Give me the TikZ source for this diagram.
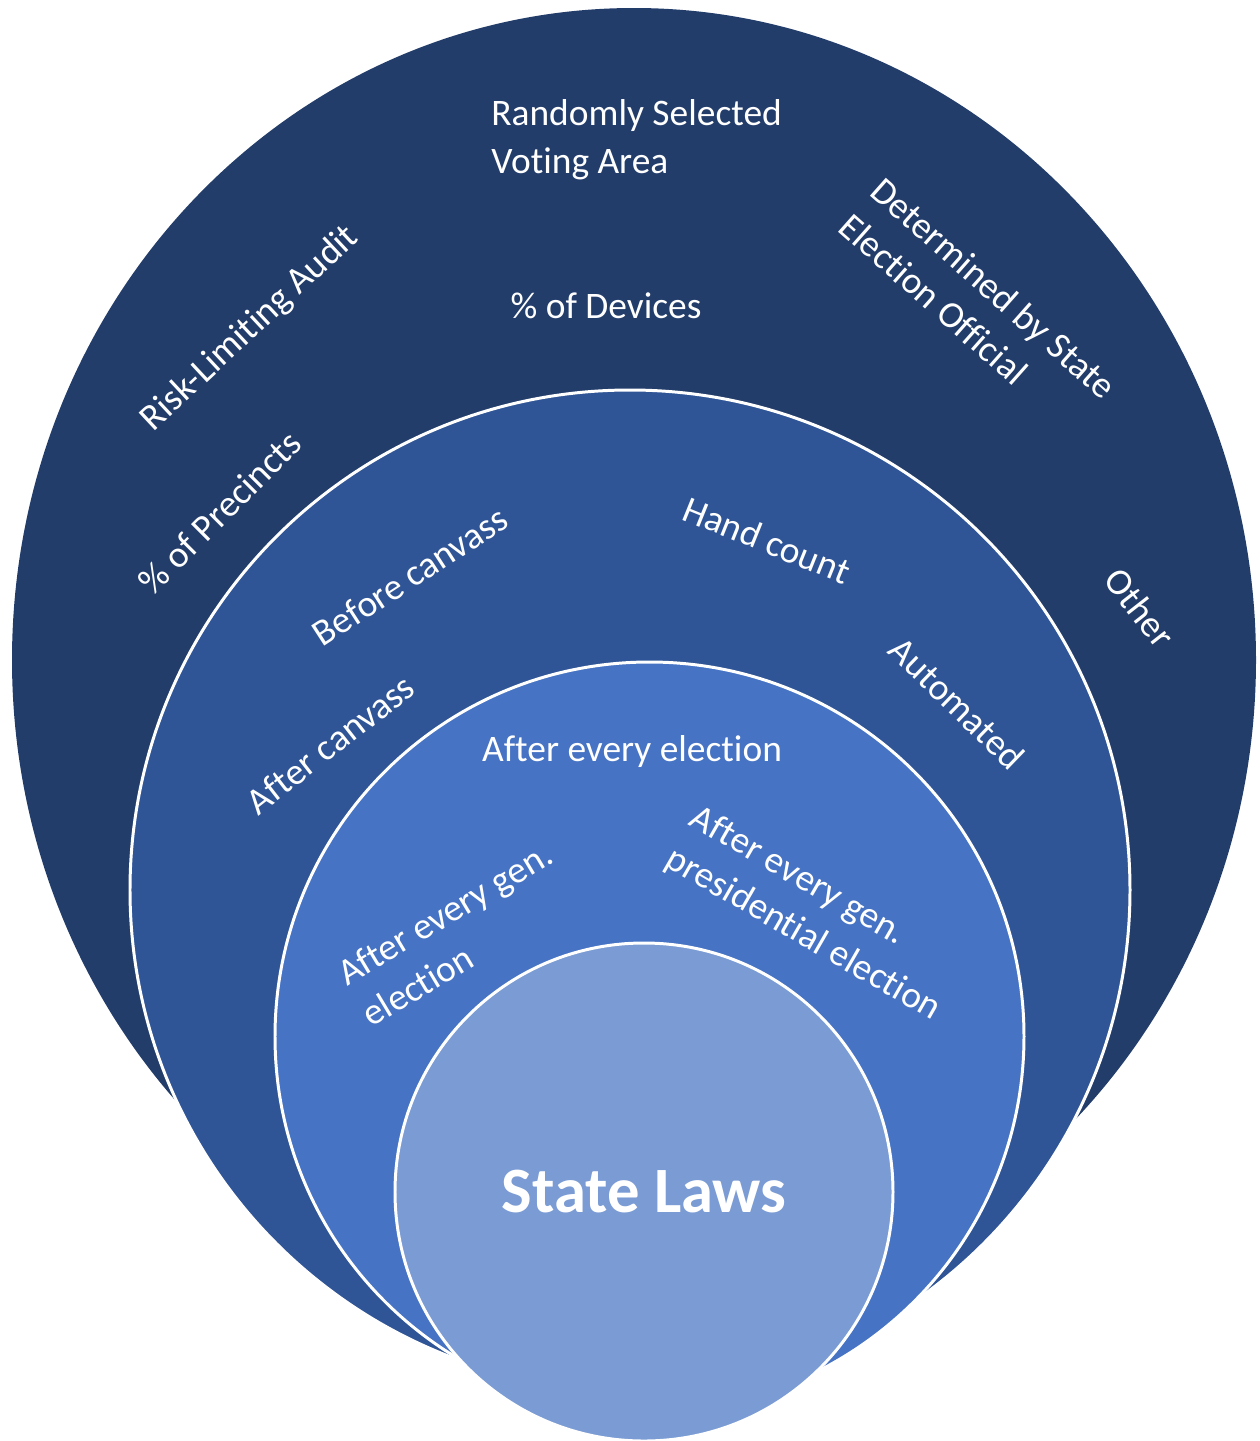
\documentclass[tikz,border=0pt]{standalone}
\usepackage{fontspec}
\setmainfont{Carlito}[Ligatures=NoCommon]
\definecolor{ringA}{HTML}{233D6B}
\definecolor{ringB}{HTML}{2F5597}
\definecolor{ringC}{HTML}{4673C4}
\definecolor{ringD}{HTML}{7A9BD4}
\begin{document}
\begin{tikzpicture}[x=0.02cm,y=-0.02cm,
  lbl/.style={text=white, font=\fontsize{21.3pt}{27.4pt}\selectfont, inner sep=0pt, align=left},
  ring/.style={draw=white, line width=1.7pt}]
\useasboundingbox (0,0) rectangle (1259,1441);
% stacked rings, largest first
\fill[ringA] (634,660) ellipse [x radius=622, y radius=652];
\filldraw[ring, fill=ringB] (630,890) circle [radius=500];
\filldraw[ring, fill=ringC] (649.5,1036.5) circle [radius=374.5];
\filldraw[ring, fill=ringD] (644,1192) circle [radius=249];

% outer ring
\node[lbl, anchor=west] (random) at (491,140) {Randomly Selected\\Voting Area};
\node[lbl] (devices) at (606,306) {\% of Devices};
\node[lbl, rotate=43] (rla) at (250,329) {Risk-Limiting Audit};
\node[lbl, rotate=45] (precincts) at (220,512) {\% of Precincts};
\node[lbl, rotate=-41.5] (official) at (978,306) {Determined by State\\Election Official};
\node[lbl, rotate=-52] (other) at (1140,608) {Other};

% second ring
\node[lbl, rotate=33] (before) at (410,576) {Before canvass};
\node[lbl, rotate=-22] (hand) at (767,540) {Hand count};
\node[lbl, rotate=38] (after) at (330,744) {After canvass};
\node[lbl, rotate=-44] (auto) at (957,703) {Automated};

% third ring
\node[lbl] (every) at (632,752) {After every election};
\node[lbl, rotate=31] (general) at (457,934) {After every gen.\\election};
\node[lbl, rotate=-30] (pres) at (815,914) {After every gen.\\presidential election};

% core
\node[text=white, font=\fontsize{36.8pt}{44pt}\selectfont\bfseries, inner sep=0pt] (laws) at (644,1192) {State Laws};
\end{tikzpicture}
\end{document}
